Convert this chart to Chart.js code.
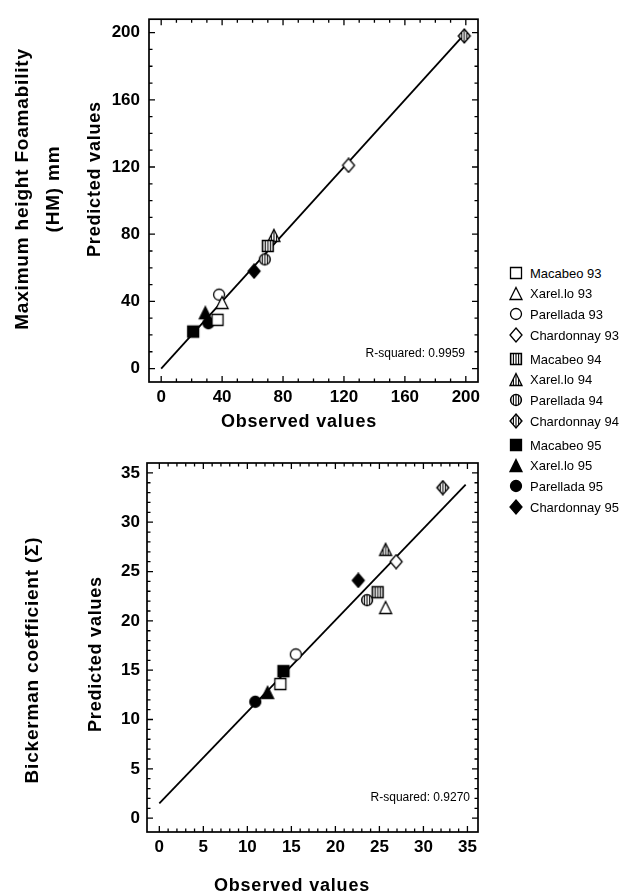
<!DOCTYPE html>
<html>
<head>
<meta charset="utf-8">
<script src="https://cdn.jsdelivr.net/npm/chart.js@4.4.1/dist/chart.umd.min.js"></script>
<style>
    body { margin: 0; background: #fff; width: 631px; height: 892px; position: relative; overflow: hidden;
           font-family: "Liberation Sans", Arial, sans-serif; }
    canvas.chart { position: absolute; left: 0; }
    #topChart { top: 0; }
    #bottomChart { top: 445px; }
    .item { position: absolute; left: 508px; height: 16px; display: flex; align-items: center;
            font-size: 13px; color: #000; white-space: nowrap; }
    .item canvas { margin-right: 6px; }
</style>
</head>
<body>
<canvas id="topChart" class="chart" width="500" height="445"></canvas>
<canvas id="bottomChart" class="chart" width="500" height="447"></canvas>
<div id="legend"></div>

<script>
// ---- data ----
const seriesNames = [
    "Macabeo 93", "Xarel.lo 93", "Parellada 93", "Chardonnay 93",
    "Macabeo 94", "Xarel.lo 94", "Parellada 94", "Chardonnay 94",
    "Macabeo 95", "Xarel.lo 95", "Parellada 95", "Chardonnay 95"
];

// Maximum height foamability (HM), mm
const hmObserved  = [37, 40, 38, 123, 70, 74, 68, 199, 21, 29, 31, 61];
const hmPredicted = [29, 39, 44, 121, 73, 79, 65, 198, 22, 33, 27, 58];
const hmFitX = [0, 199];
const hmFitY = [0, 199];
const hmTickLabels = [0, 40, 80, 120, 160, 200];
const hmRSquared = "R-squared: 0.9959";

// Bickerman coefficient
const bkObserved  = [13.75, 25.7, 15.5, 26.9, 24.8, 25.7, 23.6, 32.2, 14.1, 12.3, 10.9, 22.6];
const bkPredicted = [13.6, 21.3, 16.6, 26.0, 22.9, 27.2, 22.1, 33.5, 14.9, 12.7, 11.8, 24.1];
const bkFitX = [0, 34.8];
const bkFitY = [1.5, 33.8];
const bkTickLabels = [0, 5, 10, 15, 20, 25, 30, 35];
const bkRSquared = "R-squared: 0.9270";

// ---- symbol styles ----
const shapes = ["square", "triangle", "circle", "diamond"];
const fills = ["open", "striped", "solid"];
const FONT = '"Liberation Sans", Arial, sans-serif';

function tracePath(g, shape) {
    g.beginPath();
    if (shape === "square") {
        g.rect(-5.5, -5.5, 11, 11);
    } else if (shape === "triangle") {
        g.moveTo(0, -6.5); g.lineTo(6, 5.5); g.lineTo(-6, 5.5); g.closePath();
    } else if (shape === "circle") {
        g.arc(0, 0, 5.5, 0, Math.PI * 2);
    } else {
        g.moveTo(0, -7); g.lineTo(6, 0); g.lineTo(0, 7); g.lineTo(-6, 0); g.closePath();
    }
}

function makeSymbol(shape, fill) {
    const c = document.createElement("canvas");
    c.width = 16; c.height = 16;
    const g = c.getContext("2d");
    g.translate(8, 8);
    tracePath(g, shape);
    g.fillStyle = fill === "solid" ? "#000" : "#fff";
    g.fill();
    if (fill === "striped") {
        g.save();
        g.clip();
        g.strokeStyle = "#000";
        g.lineWidth = 1.1;
        for (let x = -5.2; x <= 6; x += 2.6) {
            g.beginPath(); g.moveTo(x, -8); g.lineTo(x, 8); g.stroke();
        }
        g.restore();
    }
    tracePath(g, shape);
    g.lineWidth = 1.3;
    g.strokeStyle = "#000";
    g.stroke();
    return c;
}

function symbolFor(i) {
    return makeSymbol(shapes[i % 4], fills[Math.floor(i / 4)]);
}

// ---- frame, inward ticks and texts ----
const framePlugin = {
    id: "frame",
    afterDraw(chart, args, o) {
        const ctx = chart.ctx;
        const { left, right, top, bottom } = chart.chartArea;
        const xs = chart.scales.x, ys = chart.scales.y;
        ctx.save();
        ctx.strokeStyle = "#000";
        ctx.lineWidth = 1.7;
        ctx.strokeRect(left, top, right - left, bottom - top);

        ctx.lineWidth = 1.3;
        for (let v = o.tickMin; v <= o.tickMax + 1e-9; v += o.minor) {
            const major = Math.abs(v / o.major - Math.round(v / o.major)) < 1e-6;
            const len = major ? 6 : 3.5;
            const px = xs.getPixelForValue(v);
            const py = ys.getPixelForValue(v);
            ctx.beginPath();
            ctx.moveTo(px, bottom); ctx.lineTo(px, bottom - len);
            ctx.moveTo(px, top); ctx.lineTo(px, top + len);
            ctx.moveTo(left, py); ctx.lineTo(left + len, py);
            ctx.moveTo(right, py); ctx.lineTo(right - len, py);
            ctx.stroke();
        }

        ctx.fillStyle = "#000";
        ctx.font = "12px " + FONT;
        ctx.textAlign = "right";
        ctx.textBaseline = "middle";
        ctx.fillText(o.rText, right - o.rRight, bottom - o.rUp);

        ctx.font = "bold 18px " + FONT;
        ctx.letterSpacing = "0.8px";
        ctx.textAlign = "center";
        ctx.textBaseline = "alphabetic";
        ctx.fillText("Observed values", o.xTitleX, o.xTitleBase);

        const rotated = (text, baseX, cy, font) => {
            ctx.save();
            ctx.translate(baseX, cy);
            ctx.rotate(-Math.PI / 2);
            ctx.font = font;
            ctx.letterSpacing = "0.8px";
            ctx.fillText(text, 0, 0);
            ctx.restore();
        };
        rotated("Predicted values", o.yTitleBase, o.yTitleY, "bold 18px " + FONT);
        o.outer.forEach((line, k) => {
            rotated(line, o.outerBase[k], o.outerY, "bold 19px " + FONT);
        });
        ctx.restore();
    }
};

function makeDatasets(obs, pred, fitX, fitY) {
    const sets = seriesNames.map((name, i) => ({
        label: name,
        type: "scatter",
        data: [{ x: obs[i], y: pred[i] }],
        pointStyle: symbolFor(i),
        order: 0
    }));
    sets.push({
        label: "fit",
        type: "line",
        data: fitX.map((x, i) => ({ x: x, y: fitY[i] })),
        borderColor: "#000",
        borderWidth: 1.8,
        pointRadius: 0,
        fill: false,
        order: 1
    });
    return sets;
}

function axis(min, max, labels, fixSize, pad) {
    return {
        type: "linear",
        min: min,
        max: max,
        grid: { display: false, drawTicks: false },
        border: { display: false },
        ticks: {
            color: "#000",
            padding: pad,
            maxRotation: 0,
            autoSkip: false,
            font: { family: FONT, size: 17, weight: "bold" }
        },
        afterBuildTicks: s => { s.ticks = labels.map(v => ({ value: v })); },
        afterFit: fixSize
    };
}

function makeChart(id, cfg) {
    return new Chart(document.getElementById(id), {
        type: "scatter",
        data: { datasets: makeDatasets(cfg.obs, cfg.pred, cfg.fitX, cfg.fitY) },
        options: {
            responsive: false,
            animation: false,
            events: [],
            layout: { padding: { left: 0, right: 22, top: cfg.padTop, bottom: 0 } },
            plugins: { legend: { display: false }, tooltip: { enabled: false }, frame: cfg.frame },
            scales: {
                x: axis(cfg.xMin, cfg.xMax, cfg.labels, s => { s.height = cfg.xHeight; }, cfg.xPad),
                y: axis(cfg.yMin, cfg.yMax, cfg.labels, s => { s.width = cfg.yWidth; }, cfg.yPad)
            }
        },
        plugins: [framePlugin]
    });
}

makeChart("topChart", {
    obs: hmObserved, pred: hmPredicted, fitX: hmFitX, fitY: hmFitY, labels: hmTickLabels,
    xMin: -8, xMax: 208, yMin: -8, yMax: 208,
    padTop: 13, xHeight: 63, yWidth: 149, xPad: 5, yPad: 9,
    frame: {
        tickMin: 0, tickMax: 200, minor: 10, major: 40,
        rText: hmRSquared, rRight: 13, rUp: 28,
        xTitleX: 299, xTitleBase: 427,
        yTitleBase: 100, yTitleY: 179,
        outer: ["Maximum height Foamability", "(HM) mm"], outerBase: [28, 59], outerY: 189
    }
});

makeChart("bottomChart", {
    obs: bkObserved, pred: bkPredicted, fitX: bkFitX, fitY: bkFitY, labels: bkTickLabels,
    xMin: -1.4, xMax: 36.2, yMin: -1.4, yMax: 36,
    padTop: 18, xHeight: 60, yWidth: 147, xPad: 5, yPad: 7,
    frame: {
        tickMin: 0, tickMax: 35, minor: 1, major: 5,
        rText: bkRSquared, rRight: 8, rUp: 34,
        xTitleX: 292, xTitleBase: 446,
        yTitleBase: 101, yTitleY: 209,
        outer: ["Bickerman coefficient (\u03A3)"], outerBase: [38], outerY: 215
    }
});

// ---- legend ----
const legend = document.getElementById("legend");
seriesNames.forEach((name, i) => {
    const group = Math.floor(i / 4), row = i % 4;
    const item = document.createElement("div");
    item.className = "item";
    item.style.top = (273 + group * 86 + row * 20.7 - 8) + "px";
    item.appendChild(symbolFor(i));
    item.appendChild(document.createTextNode(name));
    legend.appendChild(item);
});
</script>
</body>
</html>
